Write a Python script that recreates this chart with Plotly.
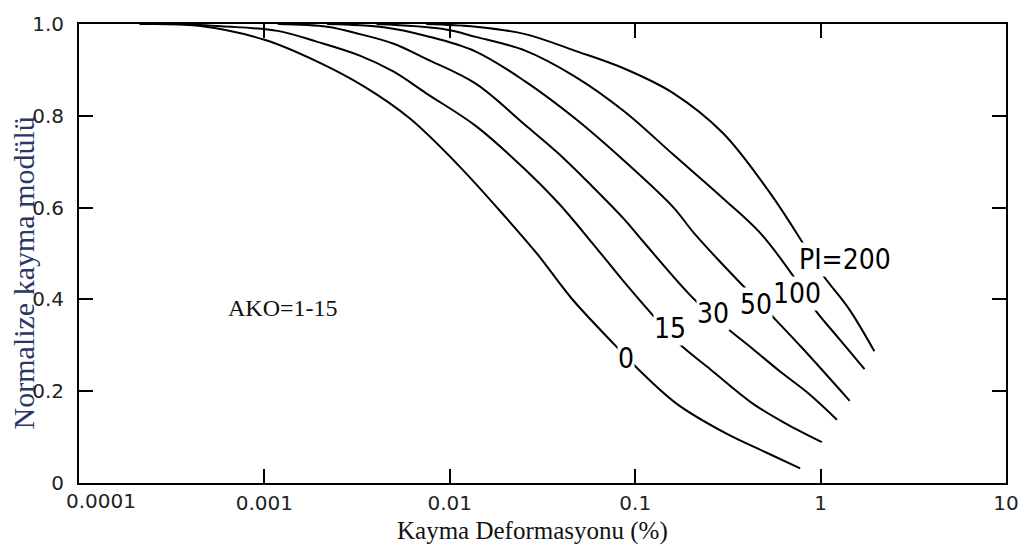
import plotly.graph_objects as go
import numpy as np

# Shear strain (%) and normalized shear modulus for each PI curve
pi0_x = [0.000212, 0.000442, 0.00101, 0.00193, 0.00344, 0.00605, 0.0112, 0.0200, 0.0299, 0.0454, 0.0771, 0.102, 0.167, 0.309, 0.505, 0.776]
pi0_y = [1.0, 0.996, 0.965, 0.918, 0.864, 0.795, 0.691, 0.579, 0.497, 0.402, 0.302, 0.251, 0.173, 0.108, 0.067, 0.032]

pi15_x = [0.000346, 0.000586, 0.00118, 0.00193, 0.00327, 0.00498, 0.00746, 0.0138, 0.0255, 0.0383, 0.0581, 0.0871, 0.126, 0.171, 0.254, 0.431, 0.646, 1.016]
pi15_y = [1.0, 0.995, 0.985, 0.961, 0.931, 0.896, 0.849, 0.778, 0.683, 0.611, 0.525, 0.438, 0.363, 0.305, 0.248, 0.173, 0.130, 0.089]

pi30_x = [0.00118, 0.00218, 0.00327, 0.00498, 0.00746, 0.0138, 0.0255, 0.0383, 0.0581, 0.0871, 0.111, 0.206, 0.305, 0.431, 0.600, 0.867, 1.225]
pi30_y = [1.0, 0.994, 0.978, 0.957, 0.924, 0.870, 0.780, 0.719, 0.648, 0.575, 0.525, 0.402, 0.341, 0.292, 0.244, 0.194, 0.138]

pi50_x = [0.00218, 0.00441, 0.00746, 0.0138, 0.0255, 0.0471, 0.0871, 0.161, 0.206, 0.287, 0.571, 0.796, 1.435]
pi50_y = [1.0, 0.993, 0.974, 0.940, 0.875, 0.795, 0.702, 0.600, 0.546, 0.482, 0.356, 0.294, 0.179]

pi100_x = [0.00403, 0.00921, 0.0138, 0.0255, 0.0471, 0.0871, 0.161, 0.298, 0.469, 0.703, 0.923, 1.253, 1.726]
pi100_y = [1.0, 0.989, 0.972, 0.942, 0.886, 0.810, 0.715, 0.620, 0.546, 0.454, 0.380, 0.315, 0.248]

pi200_x = [0.00746, 0.0138, 0.0255, 0.0471, 0.0871, 0.161, 0.298, 0.531, 0.796, 1.016, 1.419, 1.950]
pi200_y = [1.0, 0.994, 0.978, 0.942, 0.903, 0.849, 0.762, 0.633, 0.525, 0.456, 0.380, 0.287]

curve_labels = ["0", "15", "30", "50", "100", "PI=200"]
label_x = [0.0893, 0.155, 0.263, 0.447, 0.748, 1.36]
label_y = [0.272, 0.337, 0.369, 0.389, 0.413, 0.486]

x_tickvals = [0.0001, 0.001, 0.01, 0.1, 1, 10]
x_ticktext = ["", "0.001", "0.01", "0.1", "1", "10"]
first_x_ticktext = "0.0001"
y_tickvals = [0, 0.2, 0.4, 0.6, 0.8, 1.0]
y_ticktext = ["0", "0.2", "0.4", "0.6", "0.8", "1.0"]

curves = [(pi0_x, pi0_y), (pi15_x, pi15_y), (pi30_x, pi30_y),
          (pi50_x, pi50_y), (pi100_x, pi100_y), (pi200_x, pi200_y)]

fig = go.Figure()
for cx, cy in curves:
    fig.add_trace(go.Scatter(x=cx, y=cy, mode="lines",
                             line=dict(color="black", width=2, shape="spline", smoothing=1.0),
                             showlegend=False, hoverinfo="skip"))

label_font = dict(family="Liberation Sans Narrow, DejaVu Sans Condensed, Arial Narrow, sans-serif",
                  size=28, color="black")
for t, lx, ly in zip(curve_labels, label_x, label_y):
    fig.add_annotation(x=np.log10(lx), y=ly, xref="x", yref="y", text=t, showarrow=False,
                       font=label_font, bgcolor="white", borderpad=0)

fig.add_annotation(x=np.log10(0.000617), y=0.382, xref="x", yref="y", text="AKO=1-15",
                   showarrow=False, xanchor="left",
                   font=dict(family="Liberation Serif, Times New Roman, serif", size=24, color="#111111"))

fig.add_annotation(x=(537 - 79) / 937, y=(483 - 531) / 463, xref="paper", yref="paper",
                   text="Kayma Deformasyonu (%)", showarrow=False,
                   xanchor="center", yanchor="middle",
                   font=dict(family="Liberation Serif, Times New Roman, serif", size=25, color="#111111"))

fig.add_annotation(x=(23 - 79) / 937, y=(483 - 271) / 463, xref="paper", yref="paper",
                   text="Normalize kayma modülü", showarrow=False, textangle=-90,
                   xanchor="center", yanchor="middle",
                   font=dict(family="Liberation Serif, Times New Roman, serif", size=30, color="#2b3566"))

tick_font = dict(family="DejaVu Sans, sans-serif", size=20, color="#222222")

# first x tick label drawn shifted right, as in the reference
fig.add_annotation(x=np.log10(x_tickvals[0]), y=0, xref="x", yref="paper", xshift=22,
                   text=first_x_ticktext, showarrow=False, xanchor="center", yanchor="top",
                   yshift=-4, font=tick_font)

fig.update_xaxes(type="log", range=[-4, 1], tickvals=x_tickvals, ticktext=x_ticktext,
                 ticks="inside", ticklen=14, tickwidth=2, tickcolor="black",
                 showline=True, linewidth=2, linecolor="black", mirror="ticks",
                 showgrid=False, zeroline=False, tickfont=tick_font, ticklabelstandoff=1)
fig.update_yaxes(range=[0, 1.0], tickvals=y_tickvals, ticktext=y_ticktext,
                 ticks="inside", ticklen=14, tickwidth=2, tickcolor="black",
                 showline=True, linewidth=2, linecolor="black", mirror="ticks",
                 showgrid=False, zeroline=False, tickfont=tick_font, ticklabelstandoff=9)

fig.update_layout(width=1031, height=546, margin=dict(l=79, r=15, t=20, b=63),
                  plot_bgcolor="white", paper_bgcolor="white", showlegend=False)

fig.write_html("out.html")
